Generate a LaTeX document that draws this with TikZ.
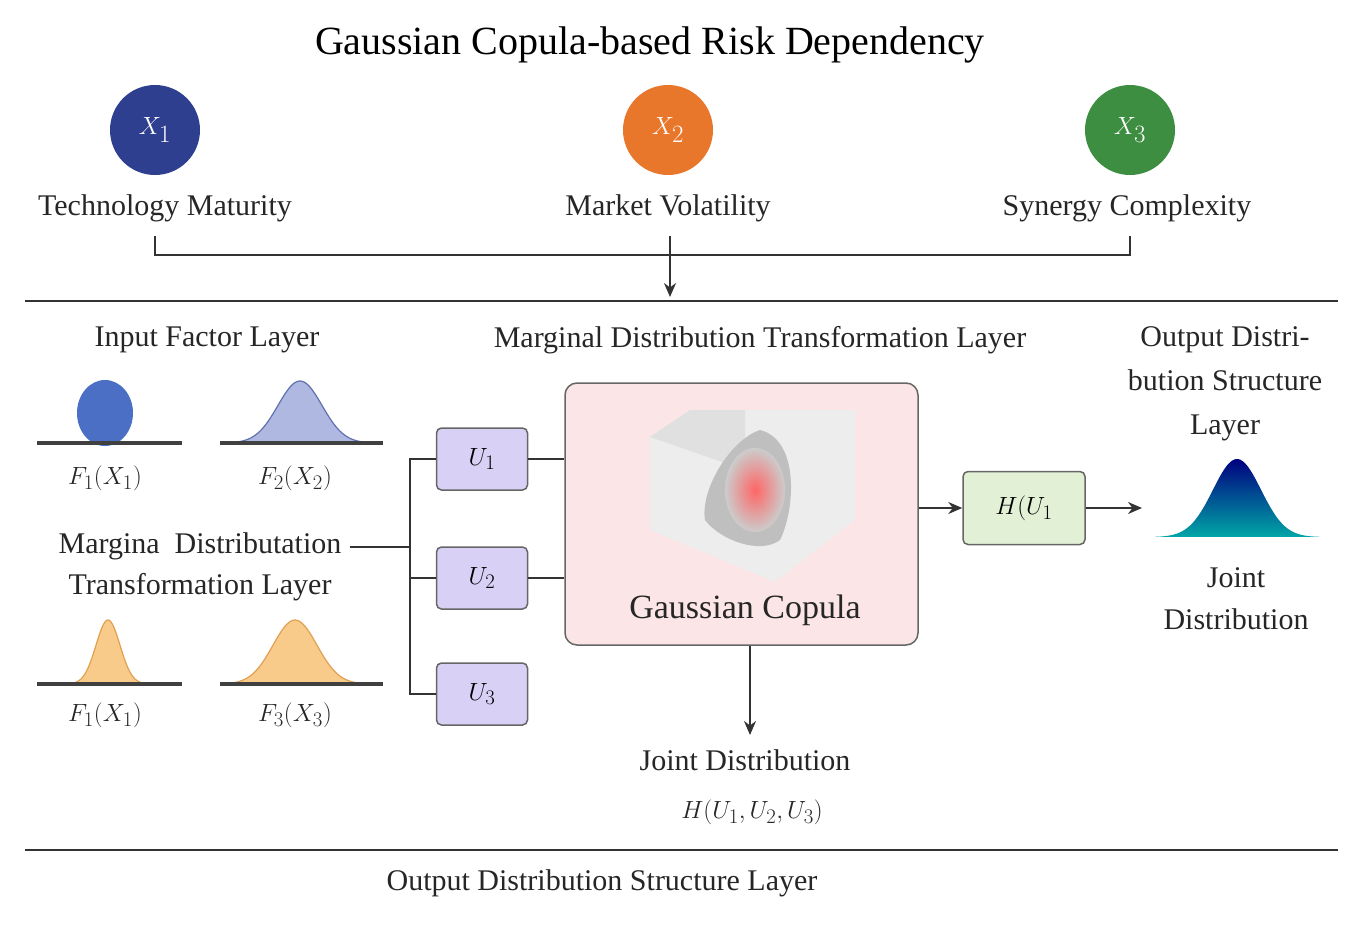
\documentclass[tikz,border=0pt]{standalone}
\usepackage{fontspec}
\setmainfont{Liberation Serif}
\usetikzlibrary{arrows.meta,calc}
\definecolor{cblue}{HTML}{2E3F8F}
\definecolor{corange}{HTML}{E8762B}
\definecolor{cgreen}{HTML}{3E8E41}
\definecolor{ublue}{HTML}{D9D0F5}
\definecolor{pinkbg}{HTML}{FBE5E6}
\definecolor{hgreen}{HTML}{E2F0D6}
\definecolor{lineg}{HTML}{333333}
\tikzset{
 body/.style={font=\fontsize{30}{33}\selectfont, inner sep=0pt, text=black!85},
 circ/.style={circle, minimum size=90pt, inner sep=0pt, text=white, font=\fontsize{38}{40}\selectfont},
 ubox/.style={draw=black!60, line width=1.5pt, fill=ublue, rounded corners=5pt, minimum width=91pt, minimum height=62pt, font=\fontsize{32}{34}\selectfont},
 conn/.style={draw=lineg, line width=2pt},
 arr/.style={conn, -{Stealth[length=14pt,width=12pt]}},
 base/.style={draw=black!75, line width=4pt},
}
\begin{document}
\begin{tikzpicture}[x=1pt,y=-1pt]
\clip (0,0) rectangle (1361,927);
\fill[white] (0,0) rectangle (1361,927);
\node[font=\fontsize{40}{44}\selectfont] (title) at (650,45) {Gaussian Copula-based Risk Dependency};
% factors
\node[circ, fill=cblue] (x1) at (155,130) {$X_1$};
\node[circ, fill=corange] (x2) at (668,130) {$X_2$};
\node[circ, fill=cgreen] (x3) at (1130,130) {$X_3$};
\node[body] (l1) at (165,208) {Technology Maturity};
\node[body] (l2) at (668,208) {Market Volatility};
\node[body] (l3) at (1127,208) {Synergy Complexity};
\coordinate (b1) at (155,236); \coordinate (b3) at (1130,236);
\coordinate (bm) at (670,236); \coordinate (bd) at (670,297);
\draw[conn] (b1) -- (155,255) -- (1130,255) -- (b3);
\draw[arr] (bm) -- (bd);
\draw[black!80, line width=1.5pt] (25,301) -- (1338,301);
\draw[black!80, line width=1.5pt] (25,850) -- (1338,850);
% layer titles
\node[body] (inl) at (207,340) {Input Factor Layer};
\node[body] (mdl) at (760,340) {Marginal Distribution Transformation Layer};
\node[body, align=center, font=\fontsize{30}{44}\selectfont] (odl) at (1225,384) {Output Distri-\\bution Structure\\Layer};
% top distributions
\fill[color=blue!55!cyan!50!black!70!white, fill={rgb,255:red,74;green,111;blue,196}] (105,413) ellipse (28pt and 33pt);
\filldraw[fill={rgb,255:red,174;green,184;blue,224}, draw={rgb,255:red,96;green,112;blue,176}, line width=1.2pt]
  plot[domain=228:375, samples=80, smooth] (\x,{443-62*exp(-((\x-300)/22)^2/2)}) -- cycle;
\draw[base] (37,443) -- (182,443);
\draw[base] (220,443) -- (383,443);
\node[body, font=\fontsize{32}{34}\selectfont] (f1) at (105,478) {$F_1(X_1)$};
\node[body, font=\fontsize{32}{34}\selectfont] (f2) at (295,478) {$F_2(X_2)$};
\node[body, align=center, font=\fontsize{30}{41}\selectfont] (mtl) at (200,567) {Margina\ \ Distributation\\Transformation Layer};
% bottom distributions
\filldraw[fill={rgb,255:red,248;green,203;blue,138}, draw={rgb,255:red,224;green,160;blue,80}, line width=1.2pt]
  plot[domain=70:146, samples=80, smooth] (\x,{684-64*exp(-((\x-108)/12)^2/2)}) -- cycle;
\filldraw[fill={rgb,255:red,248;green,203;blue,138}, draw={rgb,255:red,224;green,160;blue,80}, line width=1.2pt]
  plot[domain=228:375, samples=80, smooth] (\x,{684-64*exp(-((\x-295)/22)^2/2)}) -- cycle;
\draw[base] (37,684) -- (182,684);
\draw[base] (220,684) -- (383,684);
\node[body, font=\fontsize{32}{34}\selectfont] (f1b) at (105,715) {$F_1(X_1)$};
\node[body, font=\fontsize{32}{34}\selectfont] (f3) at (295,715) {$F_3(X_3)$};
% U boxes
\node[ubox] (u1) at (482,459) {$U_1$};
\node[ubox] (u2) at (482,578) {$U_2$};
\node[ubox] (u3) at (482,694) {$U_3$};
\draw[conn] (mtl.east) ++(8,-20) -- (410,547);
\draw[conn] (u1.west) -- (410,459) -- (410,694) -- (u3.west);
\draw[conn] (u2.west) -- (410,578);
% copula box
\node[draw=black!60, line width=1.5pt, fill=pinkbg, rounded corners=12pt, minimum width=353pt, minimum height=262pt] (cop) at (741.5,514) {};
\node[body, font=\fontsize{34}{36}\selectfont] (copl) at (745,610) {Gaussian Copula};
\fill[black!7] (650,437) -- (690,410) -- (855,410) -- (855,520) -- (775,582) -- (650,530) -- cycle;
\fill[black!12] (690,410) -- (745,410) -- (745,470) -- (650,437) -- cycle;
\fill[black!25] (760,430) .. controls (800,440) and (795,510) .. (780,540) .. controls (760,555) and (720,540) .. (705,520) .. controls (700,490) and (730,440) .. (760,430) -- cycle;
\shade[inner color=red!60, outer color=black!20] (755,490) ellipse (30pt and 42pt);
\draw[conn] (u1.east) -- (cop.west |- u1.east);
\draw[conn] (u2.east) -- (cop.west |- u2.east);
% H box
\node[draw=black!60, line width=1.5pt, fill=hgreen, rounded corners=5pt, minimum width=122pt, minimum height=73pt, font=\fontsize{32}{34}\selectfont] (h) at (1024,508) {$H(U_1$};
\draw[arr] (cop.east |- h.west) -- (h.west);
\coordinate (jd) at (1142,508);
\draw[arr] (h.east) -- (jd);
\shade[top color=blue!50!black, bottom color=teal!70!cyan] plot[domain=1155:1320, samples=80, smooth] (\x,{537-78*exp(-((\x-1237)/24)^2/2)}) -- cycle;
\node[body, align=center, font=\fontsize{30}{42}\selectfont] (jd2) at (1236,599) {Joint\\Distribution};
% bottom
\node[body] (jdl) at (745,760) {Joint Distribution};
\node[body, font=\fontsize{32}{34}\selectfont] (hu) at (752,812) {$H(U_1,U_2,U_3)$};
\draw[arr] (cop.south -| 750,0) -- (750,735);
\node[body] (odsl) at (602,883) {Output Distribution Structure Layer};
\end{tikzpicture}
\end{document}
